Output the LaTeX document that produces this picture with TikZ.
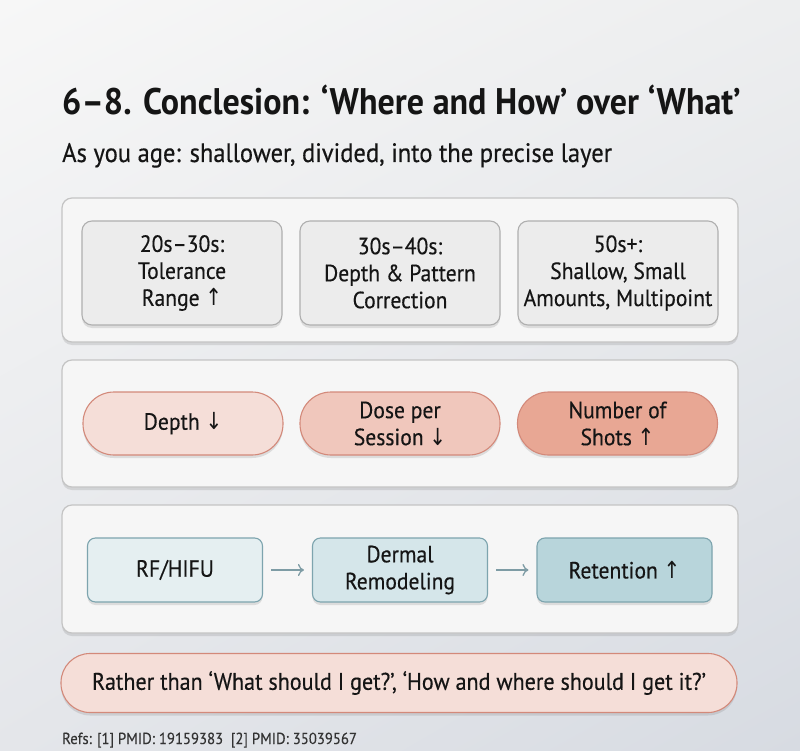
\documentclass[tikz,border=0pt]{standalone}
\usepackage{fontspec}
\setmainfont{PT Sans}[FakeStretch=0.92,UprightFeatures={FakeBold=0.35}]
\newfontfamily\symf{DejaVu Sans}[FakeStretch=0.85]
\newcommand\uarr{{\symf ↑}}
\newcommand\darr{{\symf ↓}}
\usetikzlibrary{shadows,arrows.meta,shadings}
\definecolor{bgA}{HTML}{F7F7F7}
\definecolor{bgB}{HTML}{D7DBE2}
\definecolor{bgC}{HTML}{EDEEEF}
\definecolor{bgD}{HTML}{E4E6EA}
\definecolor{panelfill}{HTML}{F6F6F6}
\definecolor{panelline}{HTML}{C4C4C4}
\definecolor{grayfill}{HTML}{ECECEC}
\definecolor{grayline}{HTML}{AFAFAF}
\definecolor{pinkA}{HTML}{F5DED8}
\definecolor{pinkB}{HTML}{F0C7BC}
\definecolor{pinkC}{HTML}{E8A794}
\definecolor{pinkline}{HTML}{D3897A}
\definecolor{blueA}{HTML}{E5EFF1}
\definecolor{blueB}{HTML}{D5E6EA}
\definecolor{blueC}{HTML}{B8D5DB}
\definecolor{blueline}{HTML}{7DA4AE}
\definecolor{arrowc}{HTML}{7E9CA5}
\definecolor{txt}{HTML}{151515}
\begin{document}
\begin{tikzpicture}[x=1pt,y=-1pt,
  shad/.style={drop shadow={shadow xshift=0pt,shadow yshift=-3pt,opacity=0.18,fill=black!60}},
  panel/.style={draw=panelline,fill=panelfill,rounded corners=10pt,line width=1.2pt,shad},
  agebox/.style={draw=grayline,fill=grayfill,rounded corners=10pt,line width=1.1pt,minimum width=200pt,minimum height=104pt,align=center,font=\fontsize{23.5}{27}\selectfont,text=txt,shad,inner sep=0pt},
  pill/.style={draw=pinkline,rounded corners=31pt,line width=1.1pt,minimum width=200pt,minimum height=63pt,align=center,font=\fontsize{23.5}{27}\selectfont,text=txt,shad,inner sep=0pt},
  flowbox/.style={draw=blueline,rounded corners=8pt,line width=1.1pt,minimum width=175pt,minimum height=64pt,align=center,font=\fontsize{23.5}{27}\selectfont,text=txt,shad,inner sep=0pt},
  flowarrow/.style={draw=arrowc,line width=1.3pt,-{To[length=6pt,width=12pt]}}
]
\useasboundingbox (0,0) rectangle (800,751);
\shade[upper left=bgA,upper right=bgC,lower left=bgD,lower right=bgB] (0,0) rectangle (800,751);

% title
\node[anchor=base west,inner sep=0pt,text=txt,font=\fontsize{37}{40}\selectfont\bfseries] (title) at (62,115) {6–8. Conclesion: ‘Where and How’ over ‘What’};
\node[anchor=base west,inner sep=0pt,text=txt,font=\fontsize{26.7}{30}\selectfont] (subtitle) at (62,162) {As you age: shallower, divided, into the precise layer};

% panel 1
\path[panel] (62,198) rectangle (738,342);
\node[agebox] (a1) at (182,273) {20s–30s:\\Tolerance\\Range \uarr};
\node[agebox] (a2) at (400,273) {30s–40s:\\Depth \& Pattern\\Correction};
\node[agebox] (a3) at (618,273) {50s+:\\Shallow, Small\\Amounts, Multipoint};

% panel 2
\path[panel] (62,360) rectangle (738,487);
\node[pill,fill=pinkA] (p1) at (183,423.5) {Depth \darr};
\node[pill,fill=pinkB] (p2) at (400,423.5) {Dose per\\Session \darr};
\node[pill,fill=pinkC] (p3) at (617.5,423.5) {Number of\\Shots \uarr};

% panel 3
\path[panel] (62,505) rectangle (738,633);
\node[flowbox,fill=blueA] (f1) at (175,570) {RF/HIFU};
\node[flowbox,fill=blueB] (f2) at (400,570) {Dermal\\Remodeling};
\node[flowbox,fill=blueC] (f3) at (624.5,570) {Retention \uarr};
\draw[flowarrow] ([xshift=8pt]f1.east) -- ([xshift=-8pt]f2.west);
\draw[flowarrow] ([xshift=8pt]f2.east) -- ([xshift=-8pt]f3.west);

% bottom pill
\node[draw=pinkline,fill=pinkA,rounded corners=29pt,line width=1.1pt,minimum width=676pt,minimum height=59pt,font=\fontsize{24}{27}\selectfont,text=txt,shad,inner sep=0pt] (msg) at (399,683) {Rather than ‘What should I get?’, ‘How and where should I get it?’};

% refs
\node[anchor=base west,inner sep=0pt,text=black!80,font=\fontsize{16}{18}\selectfont] (refs) at (62,744) {Refs: [1] PMID: 19159383\ \ [2] PMID: 35039567};
\end{tikzpicture}
\end{document}
